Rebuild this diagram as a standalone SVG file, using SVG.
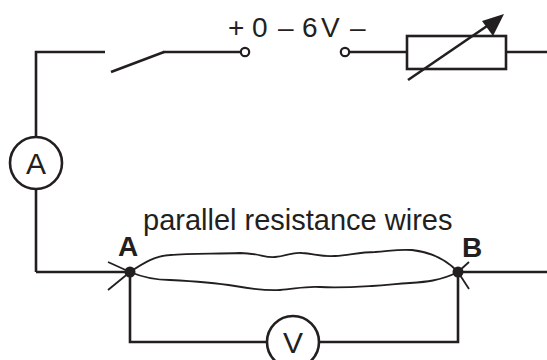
<svg xmlns="http://www.w3.org/2000/svg" width="547" height="360" viewBox="0 0 547 360">
<style>
.w{fill:none;stroke:#231f20;stroke-width:2.6;stroke-linecap:butt;stroke-linejoin:miter}
.thin{fill:none;stroke:#231f20;stroke-width:1.8}
.t{font-family:"Liberation Sans",Arial,sans-serif;fill:#231f20}
.b{font-family:"Liberation Sans",Arial,sans-serif;fill:#231f20;font-weight:bold}
</style>
<rect width="547" height="360" fill="#fff"/>
<g id="connectors">
<polyline class="w" points="105,52 36,52 36,137"/>
<line class="w" x1="36" y1="189" x2="36" y2="272"/>
<line class="w" x1="36" y1="272" x2="130" y2="272"/>
<line class="w" x1="111" y1="72" x2="164" y2="52"/>
<line class="w" x1="163" y1="52" x2="241" y2="52"/>
<line class="w" x1="349" y1="52" x2="407" y2="52"/>
<line class="w" x1="506" y1="52" x2="547" y2="52"/>
<line class="w" x1="458" y1="272" x2="547" y2="272"/>
<polyline class="w" points="130,272 130,342 267,342"/>
<polyline class="w" points="319,342 458,342 458,272"/>
</g>
<g id="supply">
<circle cx="245" cy="52" r="4.2" fill="#fff" stroke="#231f20" stroke-width="2.2"/>
<circle cx="345" cy="52" r="4.2" fill="#fff" stroke="#231f20" stroke-width="2.2"/>
<text class="t" y="37" font-size="28"><tspan x="228">+</tspan><tspan x="252">0</tspan><tspan x="278">–</tspan><tspan x="302">6</tspan><tspan x="321">V</tspan><tspan x="350">–</tspan></text>
</g>
<g id="rheostat">
<rect class="w" x="407" y="36" width="99" height="33"/>
<line x1="408" y1="80" x2="490" y2="24" stroke="#231f20" stroke-width="2.6"/>
<path d="M504,14 L482,21 L493,36 z" fill="#231f20"/>
</g>
<g id="ammeter">
<circle class="w" cx="36" cy="163" r="26"/>
<text class="t" x="36" y="174" font-size="30" text-anchor="middle">A</text>
</g>
<g id="voltmeter">
<circle class="w" cx="293" cy="342" r="26"/>
<text class="t" x="293" y="353" font-size="30" text-anchor="middle">V</text>
</g>
<g id="wires">
<path class="thin" d="M130,272 C145,262 155,256 170,255 C190,253 215,254 240,253 C258,253 265,258 275,257 C287,256 292,252 302,253 C315,254 322,257 335,256 C350,255 360,252 375,252 C390,251 398,249 412,250 C430,252 445,258 458,272"/>
<path class="thin" d="M130,272 C142,277 155,280 170,280 C190,281 210,282 235,286 C252,289 265,291 280,290 C295,289 305,286 320,287 C340,288 355,287 372,286 C388,285 395,284 410,283 C425,282 440,281 458,272"/>
<text class="t" x="143" y="230" font-size="29">parallel resistance wires</text>
</g>
<g id="nodeA">
<line x1="108" y1="262" x2="130" y2="272" stroke="#231f20" stroke-width="1.8"/>
<line x1="108" y1="290" x2="130" y2="272" stroke="#231f20" stroke-width="1.8"/>
<circle cx="130" cy="272" r="5.5" fill="#231f20"/>
<text class="b" x="128" y="256" font-size="28" text-anchor="middle">A</text>
</g>
<g id="nodeB">
<line x1="469" y1="262" x2="458" y2="272" stroke="#231f20" stroke-width="1.8"/>
<line x1="469" y1="289" x2="458" y2="272" stroke="#231f20" stroke-width="1.8"/>
<circle cx="458" cy="272" r="5.5" fill="#231f20"/>
<text class="b" x="472" y="257" font-size="28" text-anchor="middle">B</text>
</g>
</svg>
